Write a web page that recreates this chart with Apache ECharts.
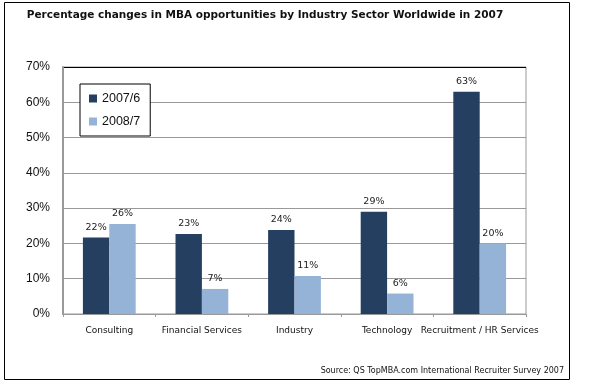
<!DOCTYPE html>
<html><head><meta charset="utf-8">
<script src="https://cdn.jsdelivr.net/npm/echarts@6/dist/echarts.min.js"></script>
<style>html,body{margin:0;padding:0;background:#fff}#c{width:590px;height:384px}</style>
</head><body><div id="c"></div>
<script>
const categories = ['Consulting', 'Financial Services', 'Industry', 'Technology', 'Recruitment / HR Services'];
const series2007 = [21.7, 22.7, 23.8, 29.0, 63.0];
const series2008 = [25.5, 7.1, 10.8, 5.8, 20.0];
const seriesNames = ['2007/6', '2008/7'];
const yTicks = [0, 10, 20, 30, 40, 50, 60, 70];

const chart = echarts.init(document.getElementById('c'), null, {renderer: 'canvas'});
const font = 'DejaVu Sans';
const lbl = {show: true, position: 'top', distance: 5, color: '#222', fontFamily: font, fontSize: 9.5,
  formatter: p => Math.round(p.value) + '%'};
chart.setOption({
  animation: false,
  graphic: [
    {type: 'rect', shape: {x: 4.5, y: 2.5, width: 565, height: 377}, style: {fill: 'none', stroke: '#000', lineWidth: 1}, z: -1},
    {type: 'text', x: 265, y: 10, style: {text: 'Percentage changes in MBA opportunities by Industry Sector Worldwide in 2007',
      font: 'bold 10.5px "DejaVu Sans"', fill: '#111', textAlign: 'center'}},
    {type: 'text', right: 26, top: 367, style: {text: 'Source: QS TopMBA.com International Recruiter Survey 2007', font: '8px "DejaVu Sans"', fill: '#111'}}
  ],
  legend: {data: seriesNames, orient: 'vertical', left: 80, top: 84, itemWidth: 8, itemHeight: 8, itemGap: 10,
    padding: [8, 10, 8, 9], backgroundColor: '#fff', borderColor: '#000', borderWidth: 1, icon: 'rect',
    textStyle: {fontFamily: 'Liberation Sans', fontSize: 12.5, color: '#111'}},
  grid: {left: 63, right: 64, top: 67, bottom: 70, show: true, borderColor: '#999', borderWidth: 1},
  xAxis: {type: 'category', data: categories,
    axisLine: {lineStyle: {color: '#999', width: 1}},
    axisTick: {show: true, length: 3, lineStyle: {color: '#999'}},
    axisLabel: {fontFamily: font, fontSize: 9, color: '#111', margin: 12, interval: 0}},
  yAxis: {type: 'value', min: yTicks[0], max: yTicks[yTicks.length - 1], interval: 10,
    axisLine: {show: true, lineStyle: {color: '#999', width: 2}},
    axisTick: {show: false},
    axisLabel: {formatter: '{value}%', fontFamily: 'Liberation Sans', fontSize: 12, color: '#111', margin: 13},
    splitLine: {lineStyle: {color: ['#999', '#999', '#999', '#999', '#999', '#999', '#999', '#000'], width: 1}}},
  series: [
    {name: seriesNames[0], type: 'bar', data: series2007, barGap: '0%', barCategoryGap: '43%',
      itemStyle: {color: '#243F60'}, label: lbl},
    {name: seriesNames[1], type: 'bar', data: series2008,
      itemStyle: {color: '#95B3D7'}, label: lbl}
  ]
});
</script></body></html>
